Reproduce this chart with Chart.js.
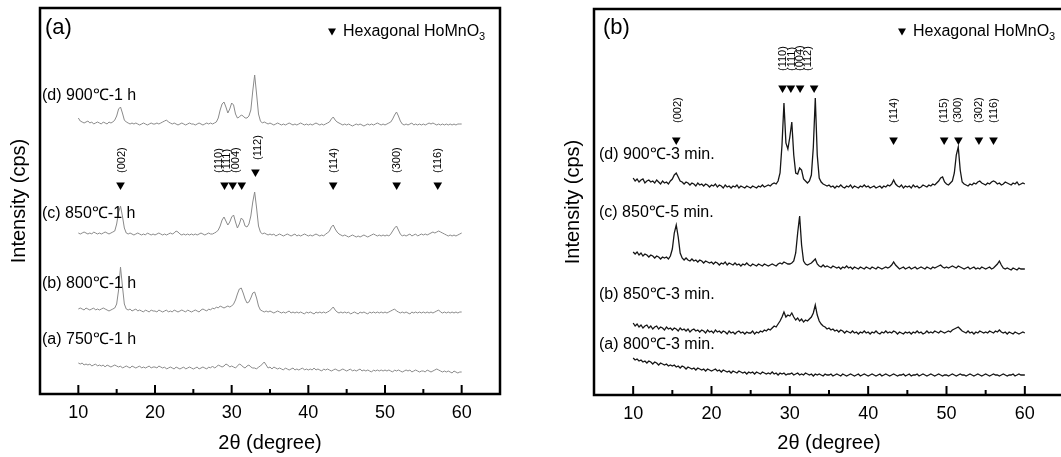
<!DOCTYPE html>
<html>
<head>
<meta charset="utf-8">
<script src="https://cdn.jsdelivr.net/npm/chart.js@4/dist/chart.umd.min.js"></script>
<style>
    html, body { margin: 0; padding: 0; background: #fff; overflow: hidden; }
    body { width: 1061px; height: 457px; position: relative; }
    #panelA { position: absolute; left: 0; top: 0; }
    #panelB { position: absolute; left: 530px; top: 0; }
</style>
</head>
<body>
<canvas id="panelA" width="530" height="457"></canvas>
<canvas id="panelB" width="545" height="457"></canvas>
<script>
// scan positions (degrees 2theta), shared by every pattern
const twoTheta = [
    10, 10.25, 10.5, 10.75, 11, 11.25, 11.5, 11.75, 12, 12.25, 12.5, 12.75, 13, 13.25, 13.5, 13.75, 14, 14.25, 14.5, 14.75,
    15, 15.25, 15.5, 15.75, 16, 16.25, 16.5, 16.75, 17, 17.25, 17.5, 17.75, 18, 18.25, 18.5, 18.75, 19, 19.25, 19.5, 19.75,
    20, 20.25, 20.5, 20.75, 21, 21.25, 21.5, 21.75, 22, 22.25, 22.5, 22.75, 23, 23.25, 23.5, 23.75, 24, 24.25, 24.5, 24.75,
    25, 25.25, 25.5, 25.75, 26, 26.25, 26.5, 26.75, 27, 27.25, 27.5, 27.75, 28, 28.25, 28.5, 28.75, 29, 29.25, 29.5, 29.75,
    30, 30.25, 30.5, 30.75, 31, 31.25, 31.5, 31.75, 32, 32.25, 32.5, 32.75, 33, 33.25, 33.5, 33.75, 34, 34.25, 34.5, 34.75,
    35, 35.25, 35.5, 35.75, 36, 36.25, 36.5, 36.75, 37, 37.25, 37.5, 37.75, 38, 38.25, 38.5, 38.75, 39, 39.25, 39.5, 39.75,
    40, 40.25, 40.5, 40.75, 41, 41.25, 41.5, 41.75, 42, 42.25, 42.5, 42.75, 43, 43.25, 43.5, 43.75, 44, 44.25, 44.5, 44.75,
    45, 45.25, 45.5, 45.75, 46, 46.25, 46.5, 46.75, 47, 47.25, 47.5, 47.75, 48, 48.25, 48.5, 48.75, 49, 49.25, 49.5, 49.75,
    50, 50.25, 50.5, 50.75, 51, 51.25, 51.5, 51.75, 52, 52.25, 52.5, 52.75, 53, 53.25, 53.5, 53.75, 54, 54.25, 54.5, 54.75,
    55, 55.25, 55.5, 55.75, 56, 56.25, 56.5, 56.75, 57, 57.25, 57.5, 57.75, 58, 58.25, 58.5, 58.75, 59, 59.25, 59.5, 59.75,
    60
];
const xTicks = [10, 15, 20, 25, 30, 35, 40, 45, 50, 55, 60];
const xTickLabels = ['10', '', '20', '', '30', '', '40', '', '50', '', '60'];

// ---- (a) 1 h anneal, patterns stacked with offsets (arb. units) ----
const a750_1h = [
    31, 30, 31, 29, 30, 29, 30, 28, 29, 30, 28, 29, 28, 29, 27, 29, 28, 27, 28, 29,
    28, 27, 28, 26, 27, 28, 27, 26, 28, 27, 26, 27, 28, 26, 27, 26, 27, 28, 26, 27,
    27, 26, 28, 27, 26, 27, 25, 26, 27, 26, 25, 27, 26, 25, 26, 27, 25, 26, 27, 26,
    25, 26, 27, 25, 26, 27, 26, 25, 27, 26, 28, 26, 27, 29, 28, 27, 28, 30, 29, 27,
    28, 27, 26, 28, 30, 29, 27, 26, 28, 29, 27, 26, 26, 25, 27, 28, 30, 32, 29, 26,
    27, 25, 27, 26, 25, 26, 25, 24, 26, 25, 24, 25, 26, 24, 25, 24, 25, 26, 24, 25,
    24, 25, 24, 26, 24, 25, 24, 23, 25, 24, 25, 24, 23, 24, 25, 24, 23, 24, 25, 24,
    23, 24, 25, 23, 24, 23, 24, 25, 23, 24, 23, 24, 23, 22, 24, 23, 24, 23, 24, 23,
    24, 23, 24, 23, 22, 24, 23, 24, 23, 22, 23, 24, 23, 24, 22, 23, 24, 23, 22, 23,
    23, 22, 24, 23, 22, 23, 24, 25, 24, 23, 22, 23, 22, 23, 22, 21, 23, 22, 21, 22,
    22
];
const a800_1h = [
    85, 86, 85, 84, 86, 85, 84, 85, 86, 84, 85, 84, 85, 86, 85, 84, 83, 84, 85, 86,
    90, 104, 127, 108, 90, 85, 84, 85, 83, 84, 85, 83, 84, 83, 82, 84, 83, 82, 84, 83,
    83, 82, 84, 83, 82, 83, 84, 82, 83, 82, 84, 83, 82, 83, 84, 83, 82, 84, 83, 82,
    83, 84, 83, 82, 84, 85, 84, 83, 85, 84, 86, 85, 87, 86, 88, 87, 86, 87, 88, 87,
    88, 90, 94, 100, 105, 106, 101, 95, 91, 92, 96, 101, 102, 96, 88, 84, 83, 82, 83, 82,
    83, 82, 81, 82, 83, 82, 81, 82, 81, 82, 83, 81, 82, 81, 82, 81, 82, 81, 80, 82,
    81, 82, 81, 80, 82, 81, 82, 81, 82, 81, 82, 83, 85, 87, 84, 82, 81, 82, 81, 82,
    81, 82, 80, 81, 82, 81, 80, 82, 81, 82, 81, 80, 82, 81, 82, 81, 82, 81, 82, 81,
    82, 81, 82, 83, 84, 85, 83, 82, 81, 82, 81, 82, 81, 80, 82, 81, 82, 81, 82, 81,
    82, 81, 82, 81, 82, 81, 82, 83, 84, 82, 81, 82, 81, 82, 81, 82, 81, 82, 81, 82,
    82
];
const a850_1h = [
    161, 160, 161, 162, 161, 160, 161, 160, 162, 161, 160, 161, 160, 161, 162, 161, 160, 161, 162, 163,
    170, 182, 188, 178, 166, 161, 160, 161, 160, 159, 160, 161, 160, 159, 160, 159, 161, 160, 159, 160,
    159, 160, 161, 160, 159, 160, 159, 160, 161, 160, 161, 163, 162, 160, 159, 160, 159, 160, 159, 160,
    159, 160, 159, 160, 161, 160, 159, 160, 161, 160, 160, 161, 162, 164, 168, 174, 177, 173, 169, 172,
    177, 179, 172, 166, 170, 176, 174, 168, 167, 170, 178, 192, 202, 186, 168, 162, 160, 161, 160, 159,
    160, 159, 160, 158, 159, 160, 159, 158, 159, 160, 159, 158, 159, 160, 158, 159, 158, 159, 160, 159,
    158, 159, 158, 159, 160, 159, 158, 159, 158, 160, 161, 163, 167, 169, 165, 162, 160, 159, 158, 159,
    158, 157, 158, 159, 158, 157, 158, 157, 158, 159, 158, 157, 158, 159, 160, 159, 158, 159, 158, 159,
    158, 159, 158, 160, 163, 166, 168, 164, 160, 158, 159, 158, 159, 160, 158, 159, 160, 158, 159, 160,
    159, 160, 159, 160, 161, 162, 161, 162, 163, 162, 161, 160, 159, 158, 159, 158, 159, 158, 159, 160,
    161
];
const a900_1h = [
    276, 273, 272, 271, 272, 273, 271, 272, 270, 271, 272, 271, 270, 272, 271, 270, 272, 271, 272, 274,
    278, 285, 287, 281, 274, 272, 271, 270, 271, 270, 271, 270, 269, 270, 271, 270, 269, 270, 271, 270,
    270, 271, 270, 271, 272, 273, 274, 272, 271, 270, 271, 270, 269, 270, 271, 270, 269, 270, 271, 270,
    270, 269, 270, 271, 270, 269, 270, 271, 270, 271, 270, 271, 272, 276, 284, 290, 292, 287, 281, 285,
    291, 289, 280, 276, 277, 279, 278, 276, 276, 278, 284, 303, 319, 300, 280, 273, 271, 272, 271, 270,
    271, 270, 269, 270, 271, 270, 269, 270, 269, 270, 271, 270, 269, 270, 269, 270, 271, 270, 269, 270,
    269, 270, 269, 270, 271, 270, 269, 270, 269, 270, 271, 272, 275, 277, 274, 272, 271, 270, 269, 270,
    269, 270, 269, 268, 269, 270, 269, 270, 269, 268, 269, 270, 269, 270, 269, 270, 271, 270, 269, 270,
    269, 270, 271, 272, 275, 279, 282, 278, 273, 270, 269, 270, 269, 270, 271, 269, 270, 269, 270, 269,
    270, 269, 270, 271, 270, 271, 270, 269, 270, 269, 270, 269, 270, 269, 270, 269, 270, 269, 270, 270,
    270
];
const samplesA = ['(a) 750℃-1 h', '(b) 800℃-1 h', '(c) 850℃-1 h', '(d) 900℃-1 h'];
const reflA = [15.5, 29.07, 30.13, 31.31, 33.1, 43.24, 51.52, 56.88];
const hklA = ['(002)', '(110)', '(111)', '(004)', '(112)', '(114)', '(300)', '(116)'];

// ---- (b) minute anneals ----
const b800_3m = [
    37, 35, 36, 34, 35, 33, 34, 32, 34, 33, 31, 33, 32, 30, 32, 31, 30, 31, 29, 30,
    29, 30, 28, 29, 27, 29, 28, 26, 28, 27, 26, 27, 25, 27, 26, 25, 26, 24, 26, 25,
    24, 25, 26, 24, 25, 23, 25, 24, 23, 24, 22, 24, 23, 22, 24, 23, 22, 23, 21, 23,
    22, 23, 21, 23, 22, 21, 23, 22, 21, 22, 21, 23, 21, 22, 20, 22, 21, 22, 20, 21,
    21, 22, 20, 21, 22, 20, 21, 20, 22, 21, 20, 21, 19, 21, 20, 21, 20, 19, 21, 20,
    20, 21, 19, 20, 21, 20, 19, 21, 20, 19, 20, 21, 20, 19, 20, 21, 19, 20, 21, 20,
    19, 20, 21, 20, 19, 20, 21, 19, 20, 21, 20, 19, 20, 21, 20, 19, 20, 20, 21, 19,
    20, 21, 19, 20, 20, 21, 19, 20, 21, 20, 19, 20, 21, 20, 19, 20, 21, 20, 19, 20,
    20, 19, 20, 21, 20, 19, 20, 21, 20, 20, 19, 20, 21, 20, 19, 20, 21, 20, 19, 20,
    21, 20, 19, 20, 21, 20, 20, 19, 20, 21, 20, 19, 20, 20, 21, 19, 20, 21, 20, 20,
    20
];
const b850_3m = [
    72, 69, 71, 68, 70, 67, 69, 70, 67, 69, 66, 68, 69, 66, 68, 67, 65, 68, 66, 67,
    65, 67, 66, 64, 67, 65, 66, 64, 66, 63, 65, 66, 64, 65, 63, 65, 64, 62, 65, 63,
    64, 62, 65, 63, 64, 62, 64, 63, 61, 64, 62, 63, 61, 63, 64, 62, 63, 61, 63, 62,
    62, 64, 61, 63, 62, 64, 63, 65, 64, 66, 65, 67, 69, 68, 71, 74, 78, 83, 78, 80,
    79, 82, 78, 75, 77, 74, 76, 73, 75, 74, 76, 78, 82, 90, 80, 74, 71, 69, 68, 66,
    67, 65, 66, 64, 65, 63, 65, 64, 62, 64, 63, 62, 64, 62, 63, 61, 63, 62, 64, 62,
    63, 61, 63, 62, 64, 62, 61, 63, 62, 64, 62, 63, 62, 64, 63, 61, 63, 62, 61, 63,
    62, 63, 61, 63, 62, 64, 62, 63, 61, 62, 64, 62, 63, 62, 64, 63, 62, 64, 63, 62,
    63, 64, 63, 65, 66, 67, 68, 66, 64, 63, 62, 64, 62, 63, 61, 63, 62, 64, 63, 62,
    63, 62, 64, 63, 62, 64, 63, 65, 63, 62, 63, 61, 63, 62, 61, 63, 62, 61, 62, 63,
    62
];
const b850_5m = [
    143, 141, 143, 140, 142, 139, 141, 140, 138, 140, 139, 137, 139, 138, 136, 138, 137, 138, 136, 139,
    146, 162, 170, 158, 142, 137, 135, 137, 135, 134, 136, 134, 135, 133, 135, 134, 132, 134, 133, 132,
    133, 131, 133, 132, 130, 132, 131, 133, 130, 132, 131, 130, 132, 130, 131, 129, 131, 130, 132, 130,
    129, 131, 130, 129, 131, 130, 129, 131, 130, 129, 130, 131, 130, 129, 131, 132, 131, 133, 132, 131,
    131, 132, 134, 142, 162, 179, 150, 134, 131, 130, 131, 132, 134, 136, 131, 129, 128, 130, 128, 129,
    128, 127, 129, 128, 127, 128, 126, 128, 127, 129, 127, 128, 126, 128, 127, 126, 128, 127, 126, 128,
    127, 126, 128, 127, 126, 128, 127, 126, 127, 128, 127, 128, 130, 133, 130, 128, 126, 127, 128, 126,
    127, 128, 126, 127, 128, 126, 127, 128, 127, 126, 128, 127, 126, 128, 127, 128, 129, 130, 128, 127,
    128, 127, 128, 129, 128, 127, 129, 128, 127, 126, 127, 128, 126, 127, 128, 126, 127, 126, 128, 127,
    126, 127, 128, 126, 127, 129, 131, 134, 130, 127, 126, 127, 126, 125, 127, 126, 125, 127, 126, 126,
    126
];
const b900_3m = [
    217, 214, 216, 213, 215, 216, 212, 214, 215, 213, 214, 212, 215, 213, 211, 214, 212, 213, 211, 214,
    216, 220, 222, 218, 214, 213, 211, 213, 212, 210, 212, 211, 209, 212, 210, 211, 209, 211, 210, 208,
    210, 209, 211, 208, 210, 209, 207, 210, 208, 209, 207, 209, 208, 210, 207, 209, 208, 207, 209, 208,
    207, 209, 208, 207, 209, 208, 210, 208, 209, 210, 209, 211, 212, 211, 214, 222, 250, 292, 252, 246,
    258, 273, 240, 222, 221, 227, 225, 216, 214, 212, 214, 220, 248, 297, 240, 217, 213, 211, 210, 209,
    210, 208, 209, 207, 209, 208, 210, 208, 207, 209, 208, 210, 207, 209, 208, 207, 209, 208, 210, 208,
    209, 207, 208, 209, 207, 208, 209, 207, 209, 208, 210, 209, 211, 215, 211, 209, 208, 210, 207, 209,
    208, 209, 207, 210, 208, 209, 207, 208, 210, 209, 208, 210, 209, 211, 210, 212, 214, 217, 218, 213,
    211, 210, 212, 214, 222, 240, 248, 225, 213, 211, 210, 209, 211, 210, 212, 211, 213, 214, 212, 211,
    210, 212, 211, 213, 214, 213, 211, 212, 210, 211, 213, 212, 211, 210, 212, 211, 213, 210, 211, 212,
    211
];
const samplesB = ['(a) 800℃-3 min.', '(b) 850℃-3 min.', '(c) 850℃-5 min.', '(d) 900℃-3 min.'];
const reflB = [15.5, 29.07, 30.13, 31.31, 33.1, 43.24, 49.7, 51.52, 54.14, 56.0];
const hklB = ['(002)', '(110)', '(111)', '(004)', '(112)', '(114)', '(115)', '(300)', '(302)', '(116)'];

const FONT = "'Liberation Sans', Arial, Helvetica, sans-serif";
Chart.defaults.font.family = FONT;
Chart.defaults.color = '#000';

const downTriangle = (ctx, cx, cy, w, h) => {
    ctx.beginPath();
    ctx.moveTo(cx - w / 2, cy - h / 2);
    ctx.lineTo(cx + w / 2, cy - h / 2);
    ctx.lineTo(cx, cy + h / 2);
    ctx.closePath();
    ctx.fill();
};

// frame, inward ticks, letters, legend, sample names and hkl labels
const decor = {
    id: 'decor',
    afterDraw(chart, args, o) {
        const { ctx, chartArea: area, scales: { x, y } } = chart;
        ctx.save();
        ctx.strokeStyle = '#000';
        ctx.fillStyle = '#000';
        ctx.lineWidth = 2.5;
        ctx.strokeRect(area.left, area.top, area.right - area.left, area.bottom - area.top);

        ctx.lineWidth = 2;
        x.ticks.forEach((t) => {
            const px = x.getPixelForValue(t.value);
            const len = t.value % 10 === 0 ? 9 : 5;
            ctx.beginPath();
            ctx.moveTo(px, area.bottom);
            ctx.lineTo(px, area.bottom - len);
            ctx.stroke();
        });

        ctx.textAlign = 'left';
        ctx.textBaseline = 'middle';
        ctx.font = `22px ${FONT}`;
        ctx.fillText(o.letter, area.left + o.letterDx, area.top + o.letterTop);

        const lx = area.right - o.legendRight;
        const ly = area.top + o.legendTop;
        downTriangle(ctx, lx, ly, 8, 7);
        ctx.font = `16px ${FONT}`;
        ctx.fillText('Hexagonal HoMnO', lx + 11, ly);
        const w = ctx.measureText('Hexagonal HoMnO').width;
        ctx.font = `11px ${FONT}`;
        ctx.fillText('3', lx + 11 + w, ly + 5);

        ctx.font = `16px ${FONT}`;
        o.samples.forEach((s, i) => {
            ctx.fillText(s, area.left + o.sampleDx, y.getPixelForValue(o.sampleLevels[i]));
        });

        ctx.font = `11px ${FONT}`;
        o.refl.forEach((r, i) => {
            ctx.save();
            ctx.translate(x.getPixelForValue(r) + o.labelDx[i], y.getPixelForValue(o.markLevels[i]) - o.labelGap);
            ctx.rotate(-Math.PI / 2);
            ctx.fillText(o.hkl[i], 0, 0);
            ctx.restore();
        });
        ctx.restore();
    }
};

const makePanel = (cfg) => {
    const lines = cfg.series.map((s) => ({
        data: s,
        borderColor: cfg.lineColor,
        borderWidth: cfg.lineWidth,
        pointRadius: 0,
        tension: 0,
        fill: false,
    }));
    lines.push({
        type: 'scatter',
        data: cfg.refl.map((r, i) => ({ x: r, y: cfg.markLevels[i] })),
        pointStyle: 'triangle',
        rotation: 180,
        pointRadius: 5,
        backgroundColor: '#000',
        borderWidth: 0,
    });

    return new Chart(document.getElementById(cfg.canvas), {
        type: 'line',
        data: { labels: twoTheta, datasets: lines },
        plugins: [decor],
        options: {
            responsive: false,
            animation: false,
            devicePixelRatio: 1,
            layout: { padding: cfg.padding },
            plugins: {
                legend: { display: false },
                tooltip: { enabled: false },
                decor: {
                    letter: cfg.letter,
                    letterDx: cfg.letterDx,
                    letterTop: cfg.letterTop,
                    legendRight: cfg.legendRight,
                    legendTop: cfg.legendTop,
                    samples: cfg.samples,
                    sampleLevels: cfg.sampleLevels,
                    sampleDx: cfg.sampleDx,
                    refl: cfg.refl,
                    hkl: cfg.hkl,
                    markLevels: cfg.markLevels,
                    labelDx: cfg.labelDx,
                    labelGap: cfg.labelGap,
                },
            },
            scales: {
                x: {
                    type: 'linear',
                    min: 5,
                    max: 65,
                    afterBuildTicks: (s) => { s.ticks = xTicks.map((v) => ({ value: v })); },
                    afterFit: (s) => { s.height = cfg.axisHeight; },
                    grid: { display: false, drawTicks: false },
                    border: { display: false },
                    ticks: {
                        autoSkip: false,
                        maxRotation: 0,
                        padding: 8,
                        font: { size: 18 },
                        color: '#000',
                        callback: (v, i) => xTickLabels[i],
                    },
                    title: {
                        display: true,
                        text: '2θ (degree)',
                        font: { size: 20 },
                        color: '#000',
                        padding: { top: 0, bottom: 2 },
                    },
                },
                y: {
                    min: 0,
                    max: 386,
                    afterFit: (s) => { s.width = 40; },
                    ticks: { display: false },
                    grid: { display: false, drawTicks: false },
                    border: { display: false },
                    title: {
                        display: true,
                        text: 'Intensity (cps)',
                        font: { size: 20 },
                        color: '#000',
                        padding: { top: 7, bottom: 0 },
                    },
                },
            },
        },
    });
};

makePanel({
    canvas: 'panelA',
    letter: '(a)', letterDx: 5, letterTop: 20,
    legendRight: 168, legendTop: 24,
    padding: { left: 0, top: 8, right: 30, bottom: 0 },
    axisHeight: 63,
    series: [a750_1h, a800_1h, a850_1h, a900_1h],
    lineColor: '#8a8a8a', lineWidth: 1,
    samples: samplesA, sampleLevels: [54, 110, 180, 298], sampleDx: 2,
    refl: reflA, hkl: hklA,
    markLevels: [209, 209, 209, 209, 222, 209, 209, 209],
    labelDx: [1, -6, -6, -6, 3, 1, 0, 0],
    labelGap: 12,
});

makePanel({
    canvas: 'panelB',
    letter: '(b)', letterDx: 9, letterTop: 19,
    legendRight: 162, legendTop: 23,
    padding: { left: 24, top: 9, right: 11, bottom: 0 },
    axisHeight: 62,
    series: [b800_3m, b850_3m, b850_5m, b900_3m],
    lineColor: '#161616', lineWidth: 1.3,
    samples: samplesB, sampleLevels: [50, 100, 182, 240], sampleDx: 5,
    refl: reflB, hkl: hklB,
    markLevels: [255, 307, 307, 307, 307, 255, 255, 255, 255, 255],
    labelDx: [2, 0, 1, 0, -6, 0, 0, 0, 0, 0],
    labelGap: 17,
});
</script>
</body>
</html>
